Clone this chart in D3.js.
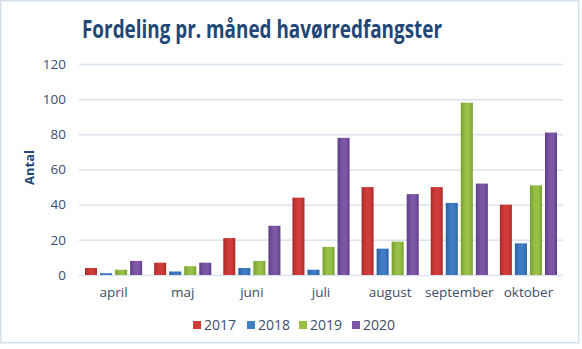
<!DOCTYPE html>
<html>
<head>
<meta charset="utf-8">
<script src="https://cdn.jsdelivr.net/npm/d3@7"></script>
<style>
  html, body { margin: 0; padding: 0; background: #ffffff; }
  svg { display: block; }
</style>
</head>
<body>
<div id="chart"></div>
<script>
const months = ['april', 'maj', 'juni', 'juli', 'august', 'september', 'oktober'];
const years = ['2017', '2018', '2019', '2020'];
const values2017 = [4, 7, 21, 44, 50, 50, 40];
const values2018 = [1, 2, 4, 3, 15, 41, 18];
const values2019 = [3, 5, 8, 16, 19, 98, 51];
const values2020 = [8, 7, 28, 78, 46, 52, 81];
const yTicks = [0, 20, 40, 60, 80, 100, 120];

const seriesValues = [values2017, values2018, values2019, values2020];
const colors = ['#d03c39', '#3f7cc4', '#98c046', '#7d56a6'];
const edgeColors = ['#aa2c2a', '#2e62a3', '#78a030', '#5f3f88'];

const totalWidth = 582;
const totalHeight = 349;
const margin = { top: 64, right: 19, bottom: 74, left: 79 };
const width = totalWidth - margin.left - margin.right;
const height = totalHeight - margin.top - margin.bottom;

const textColor = '#3b4e6b';
const titleColor = '#1f4777';

const rows = months.map((m, i) => ({
  month: m,
  values: years.map((y, j) => ({ year: y, idx: j, value: seriesValues[j][i] })),
}));

const svgRoot = d3
  .select('#chart')
  .append('svg')
  .attr('width', totalWidth)
  .attr('height', totalHeight);

// Bar gradients, darker at the edges
const defs = svgRoot.append('defs');
colors.forEach((c, i) => {
  const g = defs
    .append('linearGradient')
    .attr('id', `grad-${i}`)
    .attr('x1', '0%')
    .attr('x2', '100%')
    .attr('y1', '0%')
    .attr('y2', '0%');
  g.append('stop').attr('offset', '0%').attr('stop-color', edgeColors[i]);
  g.append('stop').attr('offset', '40%').attr('stop-color', c);
  g.append('stop').attr('offset', '70%').attr('stop-color', c);
  g.append('stop').attr('offset', '100%').attr('stop-color', edgeColors[i]);
});

// Frame
svgRoot
  .append('rect')
  .attr('x', 0.75)
  .attr('y', 0.75)
  .attr('width', totalWidth - 4)
  .attr('height', totalHeight - 7)
  .attr('fill', '#ffffff')
  .attr('stroke', '#d6e1ee')
  .attr('stroke-width', 1.5);

// Title
svgRoot
  .append('text')
  .attr('x', 262)
  .attr('y', 38)
  .attr('text-anchor', 'middle')
  .attr('font-family', 'Open Sans, sans-serif')
  .attr('font-weight', 'bold')
  .attr('font-size', 25)
  .attr('fill', titleColor)
  .attr('textLength', 360)
  .attr('lengthAdjust', 'spacingAndGlyphs')
  .text('Fordeling pr. måned havørredfangster');

const svg = svgRoot
  .append('g')
  .attr('transform', `translate(${margin.left}, ${margin.top})`);

const xScale = d3.scaleBand().domain(months).range([0, width]).paddingInner(0).paddingOuter(0);
const x1 = d3.scaleBand().domain(years).range([6, xScale.bandwidth() - 6]).paddingInner(0.2);
const yScale = d3.scaleLinear().domain([0, 120]).range([height, 0]);

// Y axis with gridlines
const yAxis = svg
  .append('g')
  .call(d3.axisLeft(yScale).tickValues(yTicks).tickSize(0).tickPadding(13));
yAxis.select('.domain').remove();
yAxis
  .selectAll('.tick text')
  .attr('font-family', 'Open Sans, sans-serif')
  .attr('font-size', 13.5)
  .attr('fill', textColor);
yAxis
  .selectAll('.tick line')
  .clone()
  .attr('x2', width)
  .attr('stroke', '#dbe3ee')
  .attr('stroke-width', 1.5);

// X axis
const xAxis = svg
  .append('g')
  .attr('transform', `translate(0, ${height})`)
  .call(d3.axisBottom(xScale).tickSize(0).tickPadding(12));
xAxis.select('.domain').remove();
xAxis
  .selectAll('.tick text')
  .attr('font-family', 'Open Sans, sans-serif')
  .attr('font-size', 13.5)
  .attr('fill', textColor);

// Y axis label
svg
  .append('text')
  .attr('transform', `translate(${-45}, ${height / 2 - 2}) rotate(-90)`)
  .attr('text-anchor', 'middle')
  .attr('font-family', 'Open Sans, sans-serif')
  .attr('font-weight', 'bold')
  .attr('font-size', 13)
  .attr('fill', titleColor)
  .text('Antal');

// Bars
svg
  .append('g')
  .selectAll('g')
  .data(rows)
  .join('g')
  .attr('transform', (d) => `translate(${xScale(d.month)}, 0)`)
  .selectAll('rect')
  .data((d) => d.values)
  .join('rect')
  .attr('x', (d) => x1(d.year))
  .attr('y', (d) => yScale(d.value))
  .attr('width', x1.bandwidth())
  .attr('height', (d) => height - yScale(d.value))
  .attr('fill', (d) => `url(#grad-${d.idx})`);

// Legend
const legendX = [193, 247, 299, 352];
const legend = svgRoot
  .append('g')
  .selectAll('g')
  .data(years)
  .join('g')
  .attr('transform', (d, i) => `translate(${legendX[i]}, 325)`);

legend
  .append('rect')
  .attr('x', 0)
  .attr('y', -4)
  .attr('width', 8)
  .attr('height', 8)
  .attr('fill', (d, i) => colors[i]);

legend
  .append('text')
  .attr('x', 11)
  .attr('y', 5)
  .attr('font-family', 'Open Sans, sans-serif')
  .attr('font-size', 14)
  .attr('fill', textColor)
  .text((d) => d);
</script>
</body>
</html>
